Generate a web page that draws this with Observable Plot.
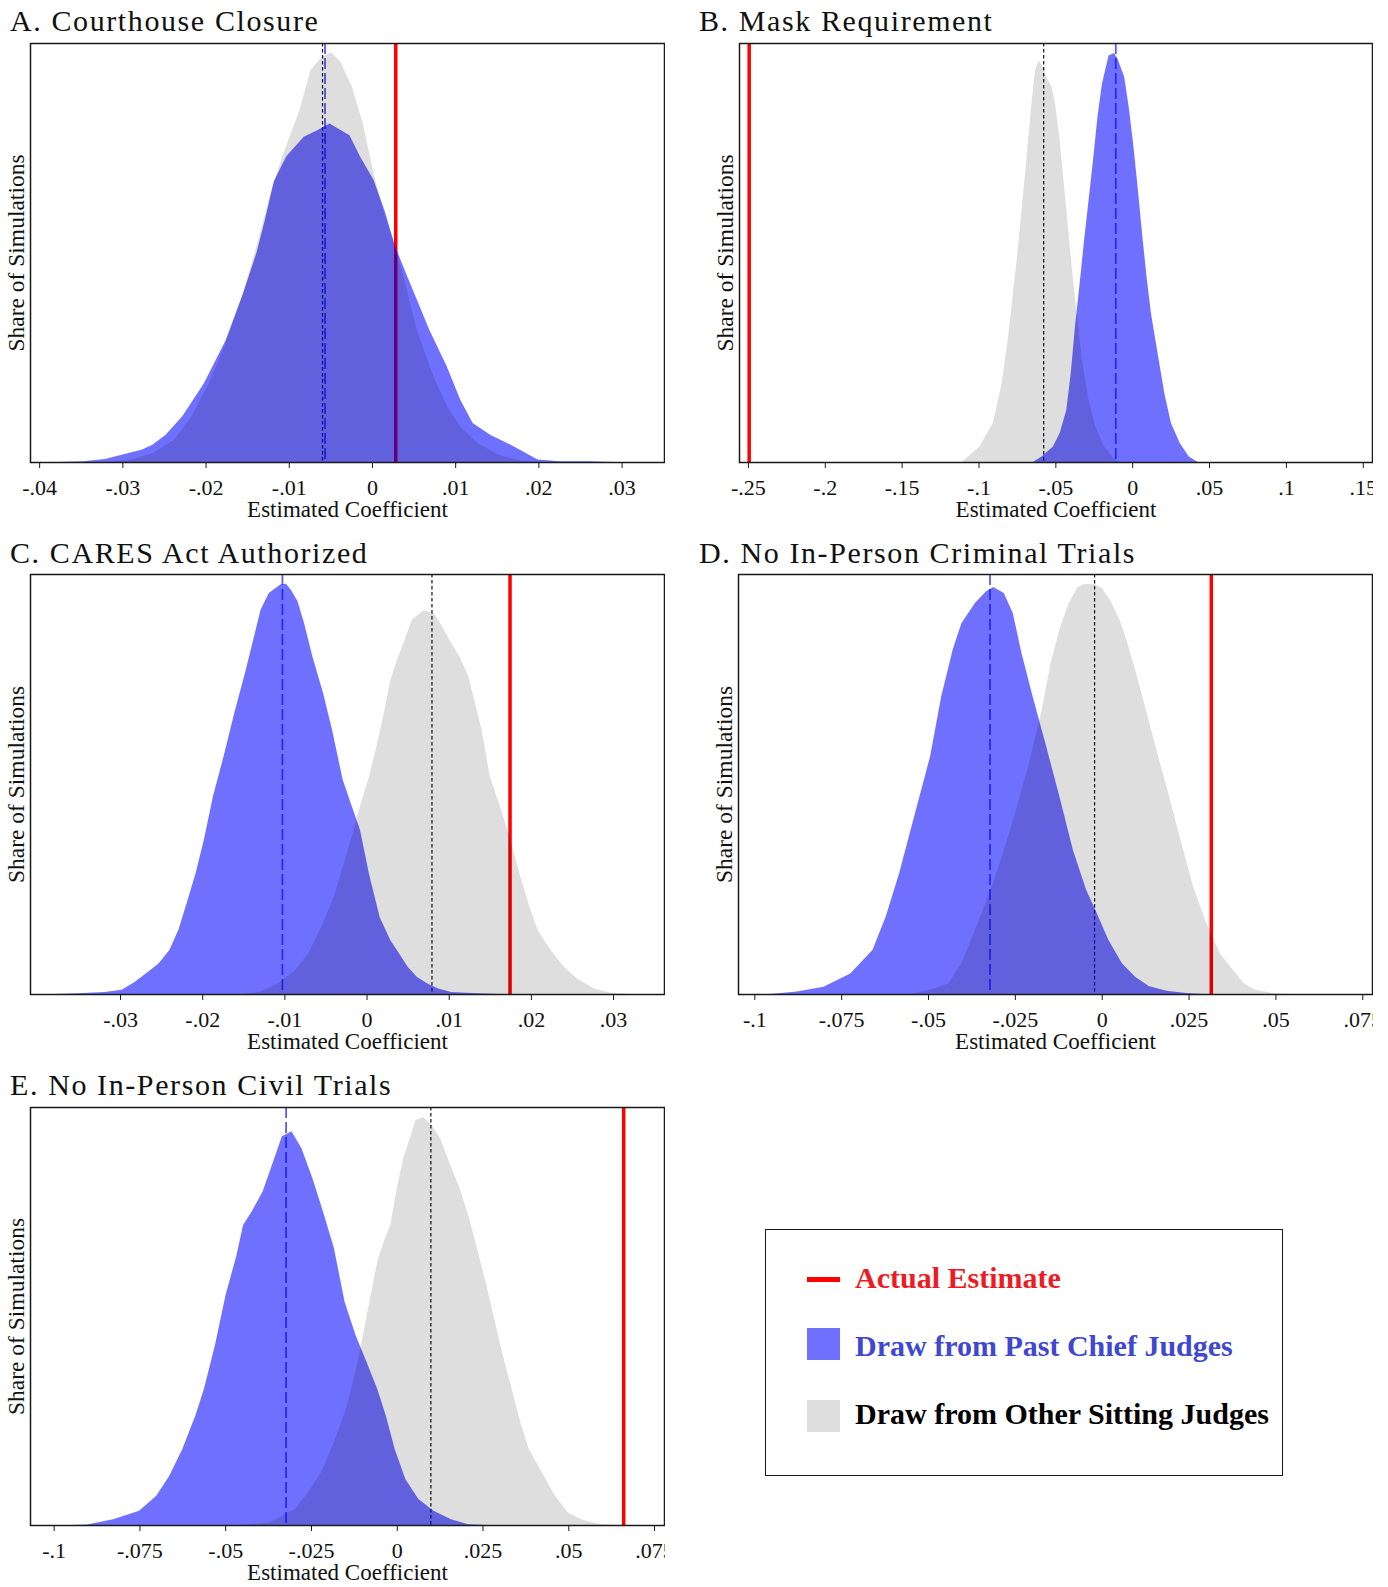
<!DOCTYPE html>
<html>
<head>
<meta charset="utf-8">
<script src="https://cdn.jsdelivr.net/npm/d3@7"></script>
<script src="https://cdn.jsdelivr.net/npm/@observablehq/plot@0.6"></script>
<style>
  body { margin: 0; background: #fff; }
  #page { position: relative; width: 1388px; height: 1587px; overflow: hidden; background: #fff; }
  .title { position: absolute; font-family: "Liberation Serif", "Times New Roman", serif; font-size: 30px; line-height: 30px; letter-spacing: 1.6px; color: #111; white-space: nowrap; }
  .panel { position: absolute; }
  .panel svg { overflow: hidden; background: transparent; }
  #legend { position: absolute; left: 765px; top: 1229px; width: 516px; height: 245px; border: 1.5px solid #1a1a1a; }
  .lg { position: absolute; font-family: "Liberation Serif", "Times New Roman", serif; font-weight: bold; font-size: 30px; line-height: 30px; white-space: nowrap; }
  .sw { position: absolute; }
</style>
</head>
<body>
<div id="page"></div>
<script>
// ---------------- DATA ----------------
const panelTitles = ["A. Courthouse Closure", "B. Mask Requirement", "C. CARES Act Authorized", "D. No In-Person Criminal Trials", "E. No In-Person Civil Trials"];
const legendLabels = ["Actual Estimate", "Draw from Past Chief Judges", "Draw from Other Sitting Judges"];
const xAxisLabel = "Estimated Coefficient";
const yAxisLabel = "Share of Simulations";

// x-axis ticks and their labels
const ticksA = [-0.04, -0.03, -0.02, -0.01, 0, 0.01, 0.02, 0.03];
const tickLabelsA = ["-.04", "-.03", "-.02", "-.01", "0", ".01", ".02", ".03"];
const ticksB = [-0.25, -0.2, -0.15, -0.1, -0.05, 0, 0.05, 0.1, 0.15];
const tickLabelsB = ["-.25", "-.2", "-.15", "-.1", "-.05", "0", ".05", ".1", ".15"];
const ticksC = [-0.03, -0.02, -0.01, 0, 0.01, 0.02, 0.03];
const tickLabelsC = ["-.03", "-.02", "-.01", "0", ".01", ".02", ".03"];
const ticksDE = [-0.1, -0.075, -0.05, -0.025, 0, 0.025, 0.05, 0.075];
const tickLabelsDE = ["-.1", "-.075", "-.05", "-.025", "0", ".025", ".05", ".075"];

// x domains
const domainA = [-0.0411, 0.0351];
const domainB = [-0.2558, 0.156];
const domainC = [-0.04096, 0.0362];
const domainD = [-0.1047, 0.0778];
const domainE = [-0.1069, 0.0779];

// actual estimates and simulation means
const actualEstimates = [0.0028, -0.2495, 0.0174, 0.0314, 0.0660];
const chiefMeans = [-0.0057, -0.0110, -0.0103, -0.0323, -0.0324];
const otherMeans = [-0.0060, -0.0579, 0.0079, -0.0022, 0.0098];

// densities: [coefficient, share relative to panel max]
const courthouseChief = [[-0.0380,0],[-0.0347,0.002],[-0.0321,0.007],[-0.0295,0.020],[-0.0277,0.029],[-0.0264,0.041],[-0.0248,0.065],[-0.0228,0.109],[-0.0202,0.188],[-0.0176,0.290],[-0.0155,0.403],[-0.0139,0.498],[-0.0129,0.576],[-0.0118,0.670],[-0.0103,0.730],[-0.0082,0.776],[-0.0066,0.792],[-0.0051,0.808],[-0.0027,0.780],[-0.0014,0.728],[0.0002,0.673],[0.0015,0.601],[0.0028,0.514],[0.0041,0.450],[0.0054,0.387],[0.0069,0.315],[0.0090,0.228],[0.0106,0.149],[0.0121,0.093],[0.0142,0.065],[0.0163,0.045],[0.0199,0.006],[0.0226,0.002],[0.0262,0.002],[0.0290,0]];
const courthouseOther = [[-0.0320,0],[-0.0290,0.006],[-0.0264,0.021],[-0.0238,0.053],[-0.0217,0.109],[-0.0196,0.188],[-0.0176,0.283],[-0.0155,0.403],[-0.0139,0.514],[-0.0123,0.633],[-0.0108,0.729],[-0.0087,0.840],[-0.0074,0.935],[-0.0061,0.966],[-0.0049,0.978],[-0.0038,0.955],[-0.0024,0.895],[-0.0011,0.808],[0.0002,0.689],[0.0012,0.609],[0.0025,0.530],[0.0038,0.443],[0.0054,0.315],[0.0074,0.204],[0.0090,0.133],[0.0106,0.085],[0.0127,0.045],[0.0153,0.017],[0.0179,0.003],[0.0205,0]];

const maskChief = [[-0.0646,0],[-0.0588,0.014],[-0.0516,0.037],[-0.0472,0.069],[-0.0429,0.124],[-0.0400,0.212],[-0.0371,0.328],[-0.0342,0.426],[-0.0313,0.530],[-0.0284,0.625],[-0.0255,0.720],[-0.0226,0.824],[-0.0197,0.903],[-0.0154,0.970],[-0.0119,0.976],[-0.0096,0.963],[-0.0052,0.919],[-0.0023,0.848],[0.0006,0.760],[0.0035,0.657],[0.0064,0.546],[0.0093,0.443],[0.0122,0.355],[0.0165,0.260],[0.0209,0.164],[0.0252,0.093],[0.0310,0.045],[0.0368,0.013],[0.0426,0]];
const maskOther = [[-0.1110,0],[-0.0994,0.037],[-0.0907,0.093],[-0.0849,0.188],[-0.0805,0.307],[-0.0776,0.403],[-0.0747,0.498],[-0.0718,0.609],[-0.0689,0.720],[-0.0660,0.840],[-0.0632,0.935],[-0.0611,0.959],[-0.0588,0.947],[-0.0559,0.919],[-0.0524,0.895],[-0.0501,0.855],[-0.0472,0.768],[-0.0443,0.657],[-0.0414,0.546],[-0.0385,0.435],[-0.0356,0.340],[-0.0327,0.243],[-0.0284,0.148],[-0.0240,0.085],[-0.0183,0.037],[-0.0125,0.010],[-0.0081,0]];

const caresChief = [[-0.0380,0],[-0.0351,0.002],[-0.0319,0.005],[-0.0298,0.010],[-0.0282,0.029],[-0.0266,0.053],[-0.0253,0.073],[-0.0240,0.105],[-0.0229,0.153],[-0.0219,0.216],[-0.0208,0.288],[-0.0198,0.367],[-0.0187,0.470],[-0.0174,0.566],[-0.0161,0.669],[-0.0148,0.764],[-0.0137,0.851],[-0.0129,0.915],[-0.0119,0.955],[-0.0105,0.975],[-0.0098,0.977],[-0.0092,0.962],[-0.0084,0.935],[-0.0076,0.883],[-0.0066,0.804],[-0.0053,0.717],[-0.0042,0.629],[-0.0029,0.510],[-0.0018,0.447],[-0.0008,0.391],[0.0003,0.286],[0.0016,0.183],[0.0029,0.128],[0.0042,0.089],[0.0050,0.065],[0.0061,0.041],[0.0074,0.025],[0.0087,0.013],[0.0103,0.005],[0.0134,0.002],[0.0160,0]];
const caresOther = [[-0.0150,0],[-0.0129,0.006],[-0.0108,0.025],[-0.0087,0.057],[-0.0071,0.097],[-0.0055,0.160],[-0.0040,0.232],[-0.0029,0.303],[-0.0018,0.375],[-0.0008,0.447],[0.0003,0.518],[0.0013,0.598],[0.0021,0.669],[0.0029,0.748],[0.0037,0.796],[0.0045,0.836],[0.0055,0.891],[0.0069,0.913],[0.0082,0.907],[0.0092,0.875],[0.0103,0.836],[0.0113,0.804],[0.0124,0.756],[0.0140,0.629],[0.0150,0.518],[0.0161,0.455],[0.0174,0.375],[0.0187,0.280],[0.0198,0.209],[0.0208,0.153],[0.0224,0.105],[0.0240,0.065],[0.0256,0.037],[0.0277,0.013],[0.0298,0.003],[0.0319,0]];

const criminalChief = [[-0.0955,0],[-0.0878,0.006],[-0.0801,0.017],[-0.0724,0.049],[-0.0660,0.105],[-0.0622,0.184],[-0.0583,0.288],[-0.0545,0.407],[-0.0494,0.566],[-0.0462,0.709],[-0.0429,0.820],[-0.0404,0.883],[-0.0365,0.931],[-0.0333,0.959],[-0.0312,0.969],[-0.0282,0.955],[-0.0256,0.907],[-0.0231,0.812],[-0.0199,0.709],[-0.0160,0.590],[-0.0122,0.471],[-0.0083,0.343],[-0.0045,0.248],[-0.0019,0.201],[0.0019,0.129],[0.0058,0.073],[0.0096,0.041],[0.0135,0.019],[0.0186,0.008],[0.0250,0.002],[0.0290,0]];
const criminalOther = [[-0.0545,0],[-0.0494,0.011],[-0.0442,0.025],[-0.0404,0.073],[-0.0365,0.153],[-0.0327,0.232],[-0.0288,0.327],[-0.0250,0.429],[-0.0212,0.542],[-0.0173,0.677],[-0.0147,0.788],[-0.0122,0.868],[-0.0096,0.930],[-0.0071,0.967],[-0.0051,0.977],[-0.0019,0.975],[0.0000,0.967],[0.0026,0.935],[0.0051,0.891],[0.0071,0.844],[0.0096,0.772],[0.0122,0.693],[0.0147,0.613],[0.0173,0.534],[0.0199,0.455],[0.0224,0.375],[0.0263,0.256],[0.0301,0.169],[0.0340,0.097],[0.0378,0.057],[0.0410,0.025],[0.0442,0.010],[0.0494,0.002],[0.0545,0]];

const civilChief = [[-0.0950,0],[-0.0903,0.001],[-0.0827,0.014],[-0.0751,0.034],[-0.0701,0.070],[-0.0663,0.118],[-0.0625,0.182],[-0.0587,0.262],[-0.0562,0.326],[-0.0530,0.430],[-0.0499,0.550],[-0.0467,0.646],[-0.0448,0.718],[-0.0423,0.750],[-0.0391,0.798],[-0.0360,0.870],[-0.0335,0.930],[-0.0307,0.942],[-0.0278,0.902],[-0.0246,0.830],[-0.0215,0.750],[-0.0183,0.662],[-0.0152,0.534],[-0.0120,0.454],[-0.0088,0.390],[-0.0057,0.326],[-0.0032,0.262],[-0.0006,0.182],[0.0025,0.110],[0.0063,0.062],[0.0107,0.034],[0.0158,0.014],[0.0208,0.002],[0.0259,0]];
const civilOther = [[-0.0448,0],[-0.0372,0.006],[-0.0297,0.038],[-0.0259,0.078],[-0.0221,0.126],[-0.0183,0.198],[-0.0145,0.286],[-0.0114,0.390],[-0.0095,0.470],[-0.0076,0.550],[-0.0057,0.630],[-0.0038,0.678],[-0.0019,0.718],[0.0000,0.806],[0.0019,0.878],[0.0038,0.926],[0.0054,0.968],[0.0076,0.976],[0.0101,0.958],[0.0126,0.926],[0.0152,0.870],[0.0183,0.806],[0.0208,0.742],[0.0234,0.662],[0.0259,0.582],[0.0284,0.494],[0.0309,0.406],[0.0335,0.326],[0.0360,0.246],[0.0385,0.182],[0.0423,0.126],[0.0461,0.070],[0.0499,0.030],[0.0537,0.014],[0.0587,0.003],[0.0638,0]];

// ---------------- LAYOUT ----------------
const page = document.getElementById("page");
const BLUE = "#0000ff", RED = "#ff0000";

const panels = [
  {title: panelTitles[0], titleLeft: 10, titleTop: 6, left: 0, top: 40, frameLeft: 30, frameRight: 664, frameTop: 43, frameBottom: 462, domain: domainA, ticks: ticksA, labels: tickLabelsA, chief: courthouseChief, other: courthouseOther, k: 0},
  {title: panelTitles[1], titleLeft: 699, titleTop: 6, left: 690, top: 40, frameLeft: 739, frameRight: 1372, frameTop: 43, frameBottom: 462, domain: domainB, ticks: ticksB, labels: tickLabelsB, chief: maskChief, other: maskOther, k: 1},
  {title: panelTitles[2], titleLeft: 10, titleTop: 538, left: 0, top: 571, frameLeft: 30, frameRight: 664, frameTop: 574, frameBottom: 994, domain: domainC, ticks: ticksC, labels: tickLabelsC, chief: caresChief, other: caresOther, k: 2},
  {title: panelTitles[3], titleLeft: 699, titleTop: 538, left: 690, top: 571, frameLeft: 738, frameRight: 1372, frameTop: 574, frameBottom: 994, domain: domainD, ticks: ticksDE, labels: tickLabelsDE, chief: criminalChief, other: criminalOther, k: 3},
  {title: panelTitles[4], titleLeft: 10, titleTop: 1070, left: 0, top: 1104, frameLeft: 30, frameRight: 664, frameTop: 1107, frameBottom: 1525, domain: domainE, ticks: ticksDE, labels: tickLabelsDE, chief: civilChief, other: civilOther, k: 4}
];

for (const p of panels) {
  const t = document.createElement("div");
  t.className = "title";
  t.style.left = p.titleLeft + "px";
  t.style.top = p.titleTop + "px";
  t.textContent = p.title;
  page.appendChild(t);

  const mt = p.frameTop - p.top;
  const mb = 66;
  const width = p.frameRight + 1 - p.left;
  const height = mt + (p.frameBottom - p.frameTop) + mb;
  const labelMap = new Map(p.ticks.map((d, i) => [d, p.labels[i]]));

  const chart = Plot.plot({
    width, height,
    marginLeft: p.frameLeft - p.left, marginRight: 1, marginTop: mt, marginBottom: mb,
    style: {fontFamily: '"Liberation Serif", "Times New Roman", serif', fontSize: "22px", background: "transparent", color: "#111", overflow: "hidden"},
    x: {domain: p.domain, axis: null},
    y: {domain: [0, 1], axis: null},
    marks: [
      Plot.ruleX([actualEstimates[p.k]], {stroke: RED, strokeWidth: 3.5}),
      Plot.ruleX([chiefMeans[p.k]], {stroke: "#5a5aff", strokeWidth: 1.8, strokeDasharray: "11,4"}),
      Plot.ruleX([otherMeans[p.k]], {stroke: "#111", strokeWidth: 1.2, strokeDasharray: "3.5,2.5"}),
      Plot.areaY(p.chief, {x: d => d[0], y: d => d[1], fill: BLUE, fillOpacity: 0.56}),
      Plot.areaY(p.other, {x: d => d[0], y: d => d[1], fill: "#000", fillOpacity: 0.13}),
      Plot.frame({stroke: "#1a1a1a", strokeWidth: 1.5}),
      Plot.axisX(p.ticks, {tickSize: 6, tickPadding: 11, tickFormat: d => labelMap.get(d), fontSize: 22, stroke: "#1a1a1a", label: null}),
      Plot.text([yAxisLabel], {frameAnchor: "left", textAnchor: "middle", rotate: -90, dx: -14, fontSize: 23.5}),
      Plot.text([xAxisLabel], {frameAnchor: "bottom", textAnchor: "middle", dy: 54, fontSize: 23})
    ]
  });
  const wrap = document.createElement("div");
  wrap.className = "panel";
  wrap.style.left = p.left + "px";
  wrap.style.top = p.top + "px";
  wrap.appendChild(chart);
  page.appendChild(wrap);
}

// ---------------- LEGEND ----------------
const legend = document.createElement("div");
legend.id = "legend";
page.appendChild(legend);

function add(cls, styles, text) {
  const el = document.createElement("div");
  el.className = cls;
  Object.assign(el.style, styles);
  if (text) el.textContent = text;
  page.appendChild(el);
}
add("sw", {left: "807px", top: "1277px", width: "33px", height: "5px", background: RED});
add("lg", {left: "855px", top: "1263px", color: "#ec1c24"}, legendLabels[0]);
add("sw", {left: "807px", top: "1328px", width: "33px", height: "32px", background: "#7070ff"});
add("lg", {left: "855px", top: "1331px", color: "#4048d0"}, legendLabels[1]);
add("sw", {left: "807px", top: "1400px", width: "33px", height: "32px", background: "#dedede"});
add("lg", {left: "855px", top: "1399px", color: "#000"}, legendLabels[2]);
</script>
</body>
</html>
